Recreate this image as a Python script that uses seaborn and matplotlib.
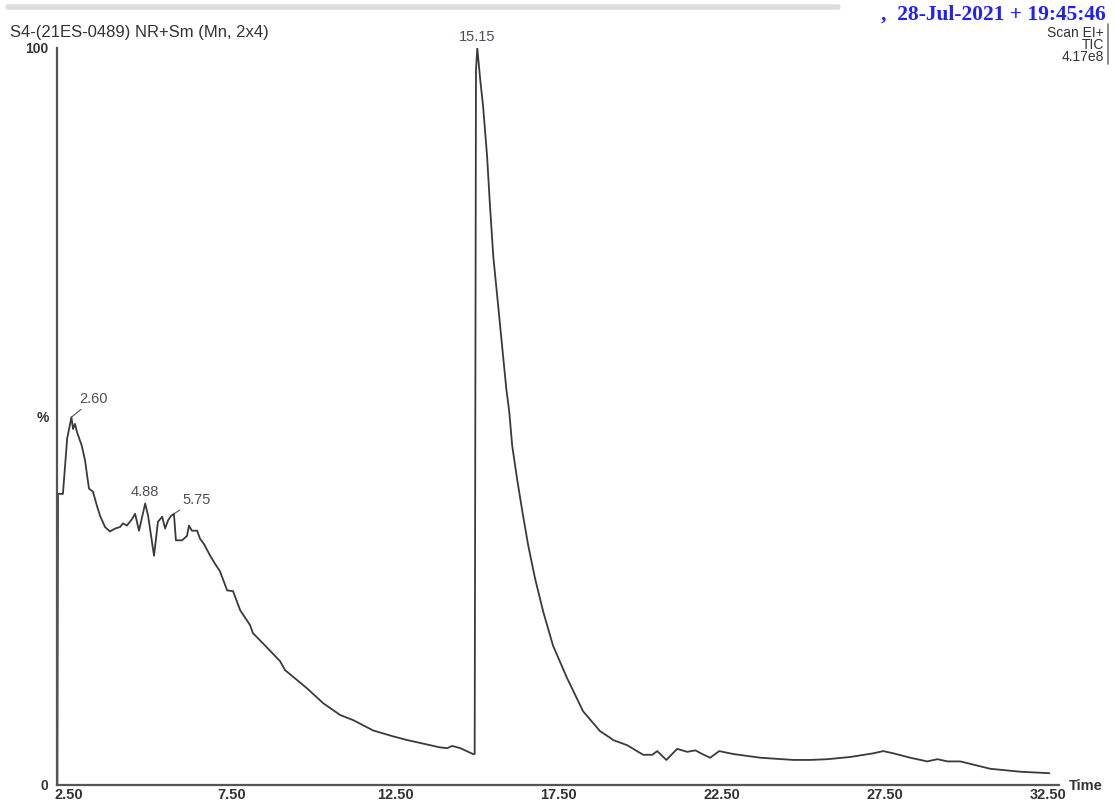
import matplotlib
matplotlib.use("Agg")
import matplotlib.pyplot as plt
import seaborn as sns
import pandas as pd
from matplotlib.ticker import MultipleLocator, FixedLocator

# retention time (min) and relative intensity (%)
time_min = [2.15, 2.17, 2.32, 2.45, 2.58, 2.63, 2.69, 2.75, 2.90, 3.00, 3.06, 3.12,
            3.24, 3.36, 3.46, 3.61, 3.76, 3.92, 4.07, 4.16, 4.28, 4.44, 4.53, 4.65,
            4.84, 4.93, 5.11, 5.23, 5.36, 5.45, 5.54, 5.63, 5.72, 5.78, 5.97, 6.12,
            6.18, 6.27, 6.43, 6.52, 6.64, 6.83, 6.98, 7.13, 7.35, 7.53, 7.75, 8.05,
            8.14, 8.45, 8.97, 9.12, 9.80, 10.29, 10.81, 11.21, 11.82, 12.43, 12.86,
            13.87, 14.09, 14.24, 14.49, 14.88, 14.93, 14.97, 15.01, 15.10, 15.19,
            15.31, 15.40, 15.50, 15.65, 15.80, 15.90, 15.99, 16.08, 16.23, 16.39,
            16.57, 16.78, 17.03, 17.33, 17.76, 18.25, 18.77, 19.08, 19.17,
            19.60, 20.09, 20.37, 20.52, 20.80, 21.13, 21.44, 21.69, 21.90, 22.14,
            22.42, 22.85, 23.68, 24.69, 25.21, 25.73, 26.43, 27.14, 27.44, 27.75,
            28.27, 28.79, 29.10, 29.41, 29.80, 30.72, 31.64, 32.53]
intensity = [0.0, 39.5, 39.5, 47.0, 49.9, 48.3, 49.0, 47.9, 46.0, 44.0, 42.0, 40.2,
             39.8, 37.9, 36.5, 35.0, 34.4, 34.8, 35.0, 35.5, 35.2, 36.1, 36.8, 34.5,
             38.2, 36.5, 31.1, 35.7, 36.4, 34.8, 35.9, 36.5, 36.8, 33.2, 33.2, 33.8,
             35.2, 34.5, 34.5, 33.4, 32.7, 31.1, 30.0, 29.0, 26.4, 26.3, 23.7, 21.7,
             20.6, 19.2, 16.8, 15.6, 13.1, 11.1, 9.5, 8.8, 7.4, 6.6, 6.1,
             5.1, 5.0, 5.3, 5.0, 4.2, 4.2, 97.0, 100.0, 95.7, 92.0,
             85.3, 78.5, 71.7, 65.0, 58.2, 53.7, 50.6, 46.0, 41.5, 37.1,
             32.5, 28.0, 23.5, 18.9, 14.5, 10.0, 7.3, 6.4, 6.1,
             5.4, 4.1, 4.1, 4.6, 3.4, 4.9, 4.5, 4.7, 4.2, 3.7,
             4.6, 4.2, 3.7, 3.4, 3.4, 3.5, 3.8, 4.3, 4.6, 4.3,
             3.7, 3.2, 3.5, 3.2, 3.2, 2.2, 1.8, 1.6]

peak_labels = ["2.60", "4.88", "5.75", "15.15"]
peak_times = [2.58, 4.84, 5.72, 15.01]
peak_heights = [49.9, 38.2, 36.8, 100.0]

x_labels = ["2.50", "7.50", "12.50", "17.50", "22.50", "27.50", "32.50"]

df = pd.DataFrame({"Time": time_min, "Intensity": intensity})

sns.set_style("white")
plt.rcParams["font.family"] = ["Liberation Sans", "DejaVu Sans"]

fig = plt.figure(figsize=(11.14, 8.02), dpi=100)
ax = fig.add_axes([0.0512, 0.0212, 0.899, 0.919])

sns.lineplot(data=df, x="Time", y="Intensity", ax=ax, color="#3a3a3a",
             linewidth=1.3, estimator=None, sort=False)

ax.set_xlim(2.14, 32.81)
ax.set_ylim(0, 100)
ax.set_xlabel("")
ax.set_ylabel("")
sns.despine(ax=ax)
for s in ["left", "bottom"]:
    ax.spines[s].set_color("#555555")
    ax.spines[s].set_linewidth(1.6)

ax.xaxis.set_major_locator(FixedLocator([2.5 + 5 * i for i in range(len(x_labels))]))
ax.set_xticklabels(x_labels)
ax.xaxis.set_minor_locator(MultipleLocator(0.5))
ax.tick_params(axis="x", which="major", direction="out", length=3, width=1.2,
               color="#555555", labelsize=10.5, labelcolor="#333333", pad=-1)
ax.tick_params(axis="x", which="minor", direction="out", length=3, width=1.0,
               color="#555555")
ax.set_yticks([0, 10, 20, 30, 40, 50, 60, 70, 80, 90, 100])
ax.set_yticklabels(["0", "", "", "", "", "%", "", "", "", "", "100"])
ax.tick_params(axis="y", direction="out", length=5, width=1.0, color="#555555",
               labelsize=10, labelcolor="#333333", pad=1)
for lab in ax.get_xticklabels() + ax.get_yticklabels():
    lab.set_fontweight("bold")

# peak annotations
lab_col = "#4a4f5a"
ax.annotate(peak_labels[0], xy=(peak_times[0], peak_heights[0]), xytext=(16, 8),
            textcoords="offset points", fontsize=10.5, color=lab_col, ha="center",
            va="bottom", arrowprops=dict(arrowstyle="-", color=lab_col, lw=0.8,
                                         shrinkA=0, shrinkB=0))
ax.text(peak_times[1], peak_heights[1] + 0.6, peak_labels[1], fontsize=10.5,
        color=lab_col, ha="center", va="bottom")
ax.annotate(peak_labels[2], xy=(peak_times[2], peak_heights[2]), xytext=(16, 5),
            textcoords="offset points", fontsize=10.5, color=lab_col, ha="center",
            va="bottom", arrowprops=dict(arrowstyle="-", color=lab_col, lw=0.8,
                                         shrinkA=0, shrinkB=0))
ax.text(peak_times[3], peak_heights[3] + 0.5, peak_labels[3], fontsize=10.5,
        color=lab_col, ha="center", va="bottom", clip_on=False)

# header texts
fig.text(10 / 1114, 1 - 33 / 802, "S4-(21ES-0489) NR+Sm (Mn, 2x4)", fontsize=12,
         color="#333333", ha="left", va="center")
fig.text(1106 / 1114, 1 - 15 / 802, ",  28-Jul-2021 + 19:45:46", fontsize=15.5,
         color="#1f1fff", fontweight="bold", family=["Liberation Serif"],
         ha="right", va="center")
fig.text(1104 / 1114, 1 - 33 / 802, "Scan EI+", fontsize=10, color="#333333",
         ha="right", va="center")
fig.text(1104 / 1114, 1 - 45 / 802, "TIC", fontsize=10, color="#333333",
         ha="right", va="center")
fig.text(1104 / 1114, 1 - 57 / 802, "4.17e8", fontsize=10, color="#333333",
         ha="right", va="center")
fig.text(1086 / 1114, 1 - 786 / 802, "Time", fontsize=10.5, color="#333333",
         fontweight="bold", ha="center", va="center")

# frame lines of the original screenshot
fig.add_artist(plt.Line2D([8 / 1114, 838 / 1114], [1 - 7 / 802, 1 - 7 / 802],
                          color="#dddddd", lw=4, transform=fig.transFigure))
fig.add_artist(plt.Line2D([1108 / 1114, 1108 / 1114], [1 - 24 / 802, 1 - 64 / 802],
                          color="#777777", lw=1.2, transform=fig.transFigure))

fig.savefig("out.png", dpi=100)
